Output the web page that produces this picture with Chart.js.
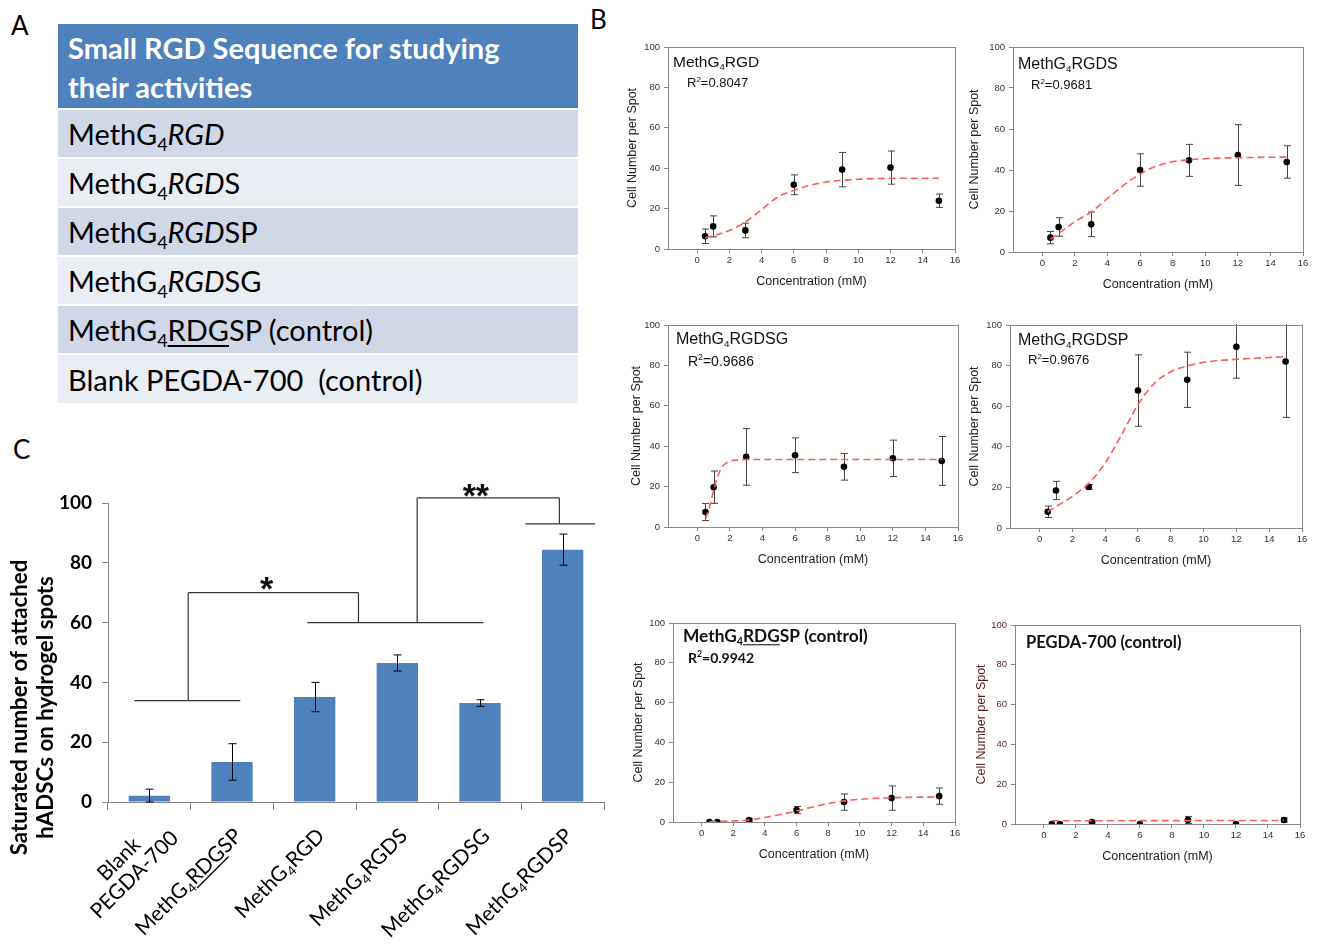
<!DOCTYPE html>
<html>
<head>
<meta charset="utf-8">
<script src="https://cdn.jsdelivr.net/npm/chart.js@4.4.1/dist/chart.umd.min.js"></script>
<style>
  body { margin: 0; background: #fff; }
  #fig { position: relative; width: 1321px; height: 944px; overflow: hidden; font-family: Lato, "Open Sans", sans-serif; }
  .lbl { position: absolute; font-size: 26px; color: #000; line-height: 1; }
  canvas { position: absolute; }
  /* tabla panel A */
  #tblA { position: absolute; left: 58px; top: 24px; width: 520px; border-collapse: collapse; }
  #tblA th { background: #4f81bd; color: #fff; font-weight: bold; font-size: 29px; text-align: left;
             line-height: 39px; height: 85px; padding: 2px 0 0 10px; box-sizing: border-box; vertical-align: middle; }
  #tblA td { font-size: 29px; height: 49px; padding: 0 0 0 10px; border-top: 2px solid #fff; box-sizing: border-box; }
  #tblA tr.d td { background: #d0d8e8; }
  #tblA tr.l td { background: #e9edf4; }
  #tblA sub { font-size: 62%; vertical-align: -0.32em; line-height: 0; }
  #tblA u { text-decoration-thickness: 1.5px; text-underline-offset: 4px; }
</style>
</head>
<body>
<div id="fig">
  <div class="lbl" style="left:11px;top:12px">A</div>
  <div class="lbl" style="left:590px;top:6px">B</div>
  <div class="lbl" style="left:13px;top:436px">C</div>

  <table id="tblA">
    <tr><th>Small RGD Sequence for studying<br>their activities</th></tr>
    <tr class="d"><td>MethG<sub>4</sub><i>RGD</i></td></tr>
    <tr class="l"><td>MethG<sub>4</sub><i>RGD</i>S</td></tr>
    <tr class="d"><td>MethG<sub>4</sub><i>RGD</i>SP</td></tr>
    <tr class="l"><td>MethG<sub>4</sub><i>RGD</i>SG</td></tr>
    <tr class="d"><td>MethG<sub>4</sub><u>RDG</u>SP (control)</td></tr>
    <tr class="l"><td>Blank PEGDA-700&nbsp; (control)</td></tr>
  </table>

  <canvas id="c1"></canvas>
  <canvas id="c2"></canvas>
  <canvas id="c3"></canvas>
  <canvas id="c4"></canvas>
  <canvas id="c5"></canvas>
  <canvas id="c6"></canvas>
  <canvas id="barC"></canvas>
</div>

<script>
/* ── Datos panel B ── */
const concentrations = [0.5, 1, 3, 6, 9, 12, 15];
const xTicks = [0, 2, 4, 6, 8, 10, 12, 14, 16];
const yTicks = [0, 20, 40, 60, 80, 100];

const rgdMean   = [6.3, 11.2, 9.2, 31.8, 39.3, 40.3, 23.9];
const rgdErr    = [3.6, 5.2, 3.6, 4.9, 8.5, 8.2, 3.3];
const rgdFitX   = [0.5, 2, 3, 4, 5, 6, 7, 8, 9, 10, 12, 15];
const rgdFit    = [5.4, 9.2, 13.4, 19.5, 25.7, 29, 31.5, 33.2, 34, 34.5, 35, 35];

const rgdsMean  = [7, 12.2, 13.5, 40, 44.7, 47.3, 43.9];
const rgdsErr   = [3, 4.5, 6, 7.9, 7.8, 14.8, 7.9];
const rgdsFitX  = [0.5, 2, 3, 4, 5, 6, 7, 8, 9, 10, 12, 15];
const rgdsFit   = [6.2, 14.7, 19.6, 26.1, 32.6, 38, 41.9, 44, 45, 45.5, 46, 46.3];

const rgdsgMean = [7.4, 19.7, 34.7, 35.5, 29.8, 34, 32.7];
const rgdsgErr  = [4.2, 8, 14, 8.6, 6.6, 9, 12.1];
const rgdsgFitX = [0.5, 0.75, 1, 1.25, 1.5, 2, 2.5, 3, 6, 9, 12, 15];
const rgdsgFit  = [4, 10, 18, 25, 29.5, 32.5, 33.2, 33.4, 33.4, 33.4, 33.4, 33.4];

const rgdspMean = [8, 18.5, 20.2, 67.7, 73, 89.3, 82];
const rgdspErr  = [2.8, 4.5, 1.2, 17.6, 13.6, 15.5, 27.5];
const rgdspFitX = [0.5, 2, 3, 4, 5, 6, 7, 8, 9, 10, 12, 15];
const rgdspFit  = [8, 15.6, 22, 32, 45.9, 60.7, 71.3, 77, 79.8, 81.6, 83.1, 84.4];

const rdgspMean = [0, 0, 1, 6, 10, 12, 13];
const rdgspErr  = [0, 0, 0.6, 1.8, 4.1, 6.1, 4.1];
const rdgspFitX = [0.5, 2, 3, 4, 5, 6, 7, 8, 9, 10, 12, 15];
const rdgspFit  = [0.2, 0.5, 1, 2.3, 3.8, 5.5, 7.5, 9.3, 10.6, 11.4, 12.2, 12.6];

const pegdaMean = [0, 0, 1, 0, 2, 0, 2];
const pegdaErr  = [0, 0, 0.5, 0, 1.8, 0, 1];
const pegdaFitX = [0.5, 15];
const pegdaFit  = [1.6, 1.8];

/* ── Datos panel C ── */
const barCategories = ["Blank PEGDA-700", "MethG4RDGSP", "MethG4RGD", "MethG4RGDS", "MethG4RGDSG", "MethG4RGDSP"];
const barMean = [2.1, 13.4, 35.1, 46.5, 33.1, 84.4];
const barErr  = [2.2, 6.1, 4.9, 2.7, 1.1, 5.2];
const barTicks = [0, 20, 40, 60, 80, 100];
const barLabelRuns = [
  [[{t:"Blank"}], [{t:"PEGDA-700"}]],
  [[{t:"MethG"}, {t:"4", sub:true}, {t:"RDG", u:true}, {t:"SP"}]],
  [[{t:"MethG"}, {t:"4", sub:true}, {t:"RGD"}]],
  [[{t:"MethG"}, {t:"4", sub:true}, {t:"RGDS"}]],
  [[{t:"MethG"}, {t:"4", sub:true}, {t:"RGDSG"}]],
  [[{t:"MethG"}, {t:"4", sub:true}, {t:"RGDSP"}]]
];
// corchetes de significancia, en unidades (categoría, valor)
const bracketSegs = [
  [-0.18, 33.9, 1.1, 33.9],
  [0.47, 33.9, 0.47, 70],
  [0.47, 70, 2.53, 70],
  [2.53, 70, 2.53, 60],
  [1.91, 60, 4.04, 60],
  [3.24, 60, 3.24, 101.7],
  [3.24, 101.7, 4.96, 101.7],
  [4.96, 101.7, 4.96, 93],
  [4.55, 93, 5.39, 93]
];
const starMarks = [{x: 1.42, y: 74.2, t: "*"}, {x: 3.95, y: 105.4, t: "**"}];

/* ── Texto enriquecido (subíndices, cursiva, subrayado) ── */
function fontOf(r, size, weight, family) {
  const s = (r.sub || r.sup) ? size * 0.62 : size;
  return (r.it ? "italic " : "") + weight + " " + s + "px " + family;
}
function runsWidth(ctx, runs, size, weight, family) {
  let w = 0;
  runs.forEach(r => { ctx.font = fontOf(r, size, weight, family); w += ctx.measureText(r.t).width; });
  return w;
}
function drawRuns(ctx, runs, x, y, size, weight, family, align) {
  const w = runsWidth(ctx, runs, size, weight, family);
  let cx = align === "right" ? x - w : align === "center" ? x - w / 2 : x;
  ctx.textAlign = "left";
  ctx.textBaseline = "alphabetic";
  runs.forEach(r => {
    ctx.font = fontOf(r, size, weight, family);
    const dy = r.sub ? size * 0.2 : r.sup ? -size * 0.4 : 0;
    ctx.fillText(r.t, cx, y + dy);
    const rw = ctx.measureText(r.t).width;
    if (r.u) ctx.fillRect(cx, y + size * 0.13, rw, Math.max(1, size * 0.06));
    cx += rw;
  });
}

/* ── Plugin de los gráficos pequeños ── */
const smallDecor = {
  id: "smallDecor",
  beforeDatasetsDraw(chart, args, o) {
    const {ctx, chartArea: a, scales: {x, y}} = chart;
    ctx.save();
    ctx.beginPath(); ctx.rect(a.left, a.top - 1, a.right - a.left, a.bottom - a.top + 2); ctx.clip();
    ctx.strokeStyle = "#444"; ctx.lineWidth = 1;
    const ds = chart.data.datasets[1];
    ds.data.forEach((p, i) => {
      const e = ds.err[i];
      if (!e) return;
      const px = Math.round(x.getPixelForValue(p.x)) + 0.5;
      const t = y.getPixelForValue(p.y + e), b = y.getPixelForValue(p.y - e);
      ctx.beginPath();
      ctx.moveTo(px, t); ctx.lineTo(px, b);
      ctx.moveTo(px - 3.5, t); ctx.lineTo(px + 3.5, t);
      ctx.moveTo(px - 3.5, b); ctx.lineTo(px + 3.5, b);
      ctx.stroke();
    });
    ctx.restore();
  },
  afterDraw(chart, args, o) {
    const {ctx, chartArea: a} = chart;
    ctx.save();
    ctx.strokeStyle = "#888"; ctx.lineWidth = 1;
    ctx.strokeRect(Math.round(a.left) + 0.5, Math.round(a.top) + 0.5, Math.round(a.right - a.left), Math.round(a.bottom - a.top));
    ctx.fillStyle = o.yColor || "#222";
    // título eje y
    ctx.save();
    ctx.translate(a.left - o.yGap, (a.top + a.bottom) / 2);
    ctx.rotate(-Math.PI / 2);
    ctx.font = "12.5px 'Liberation Sans'"; ctx.textAlign = "center"; ctx.textBaseline = "middle";
    ctx.fillText("Cell Number per Spot", 0, 0);
    ctx.restore();
    // título eje x
    ctx.fillStyle = "#222";
    ctx.font = "12.5px 'Liberation Sans'"; ctx.textAlign = "center"; ctx.textBaseline = "middle";
    ctx.fillText("Concentration (mM)", (a.left + a.right) / 2, a.bottom + 33);
    // rótulos internos
    ctx.fillStyle = "#111";
    drawRuns(ctx, o.title, a.left + o.tx, a.top + o.ty, o.tsize, o.tweight, o.tfamily, "left");
    if (o.r2) drawRuns(ctx, o.r2, a.left + o.rx, a.top + o.ry, o.rsize, o.tweight, o.tfamily, "left");
    ctx.restore();
  }
};

function smallChart(id, box, mean, err, fitX, fit, deco) {
  const cv = document.getElementById(id);
  const padL = 62, padT = 12, padR = 12, padB = 52;
  cv.width = box[2] - box[0] + padL + padR;
  cv.height = box[3] - box[1] + padT + padB;
  cv.style.left = (box[0] - padL) + "px";
  cv.style.top = (box[1] - padT) + "px";
  const tickColor = deco.yColor || "#333";
  new Chart(cv, {
    type: "scatter",
    data: {
      datasets: [{
        data: fitX.map((v, i) => ({x: v, y: fit[i]})),
        showLine: true, borderColor: "#ff5a5a", borderDash: [7, 4], borderWidth: 1.6,
        pointRadius: 0, cubicInterpolationMode: "monotone", fill: false
      }, {
        data: concentrations.map((v, i) => ({x: v, y: mean[i]})),
        err: err,
        backgroundColor: "#000", borderColor: "#000", pointRadius: 3.3, borderWidth: 0
      }]
    },
    options: {
      responsive: false, animation: false,
      layout: {padding: {top: padT, right: padR, left: 0, bottom: 0}},
      plugins: {legend: {display: false}, tooltip: {enabled: false}, smallDecor: deco},
      scales: {
        x: {
          type: "linear", min: -1.8, max: 16,
          afterBuildTicks: s => { s.ticks = xTicks.map(v => ({value: v})); },
          afterFit: s => { s.height = padB; },
          grid: {drawOnChartArea: false, tickLength: 4, color: "#888"},
          border: {color: "#888"},
          ticks: {font: {family: "Liberation Sans", size: 9.5}, color: "#333", padding: 2, maxRotation: 0}
        },
        y: {
          min: 0, max: 100,
          afterBuildTicks: s => { s.ticks = yTicks.map(v => ({value: v})); },
          afterFit: s => { s.width = padL; },
          grid: {drawOnChartArea: false, tickLength: 4, color: "#888"},
          border: {color: "#888"},
          ticks: {font: {family: "Liberation Sans", size: 9.5}, color: tickColor, padding: 4}
        }
      }
    },
    plugins: [smallDecor]
  });
}

const arial = "'Liberation Sans'";
const r2 = s => [{t: "R"}, {t: "2", sup: true}, {t: "=" + s}];
const titleRuns = s => [{t: "MethG"}, {t: "4", sub: true}, {t: s}];

smallChart("c1", [668, 47, 955, 249], rgdMean, rgdErr, rgdFitX, rgdFit,
  {title: titleRuns("RGD"), tx: 5, ty: 20, tsize: 15.5, tweight: "normal", tfamily: arial,
   r2: r2("0.8047"), rx: 19, ry: 40, rsize: 13, yGap: 35});
smallChart("c2", [1013, 47, 1303, 252], rgdsMean, rgdsErr, rgdsFitX, rgdsFit,
  {title: titleRuns("RGDS"), tx: 5, ty: 22, tsize: 16, tweight: "normal", tfamily: arial,
   r2: r2("0.9681"), rx: 18, ry: 42, rsize: 13, yGap: 38});
smallChart("c3", [668, 325, 958, 527], rgdsgMean, rgdsgErr, rgdsgFitX, rgdsgFit,
  {title: titleRuns("RGDSG"), tx: 8, ty: 19, tsize: 16, tweight: "normal", tfamily: arial,
   r2: r2("0.9686"), rx: 20, ry: 41, rsize: 14, yGap: 31});
smallChart("c4", [1010, 325, 1302, 528], rgdspMean, rgdspErr, rgdspFitX, rgdspFit,
  {title: titleRuns("RGDSP"), tx: 8, ty: 20, tsize: 16, tweight: "normal", tfamily: arial,
   r2: r2("0.9676"), rx: 18, ry: 39, rsize: 13, yGap: 35});
smallChart("c5", [673, 623, 955, 822], rdgspMean, rdgspErr, rdgspFitX, rdgspFit,
  {title: [{t: "MethG"}, {t: "4", sub: true}, {t: "RDG", u: true}, {t: "SP (control)"}], tx: 10, ty: 19, tsize: 17.3, tweight: "bold", tfamily: "Lato",
   r2: r2("0.9942"), rx: 15, ry: 40, rsize: 14, yGap: 34});
smallChart("c6", [1015, 625, 1300, 824], pegdaMean, pegdaErr, pegdaFitX, pegdaFit,
  {title: [{t: "PEGDA-700 (control)"}], tx: 11, ty: 23, tsize: 16.6, tweight: "bold", tfamily: "Lato",
   yGap: 33, yColor: "#5a1f1f"});

/* ── Panel C: barras ── */
const barDecor = {
  id: "barDecor",
  afterDatasetsDraw(chart) {
    const {ctx, scales: {x, y}} = chart;
    ctx.save();
    ctx.strokeStyle = "#000"; ctx.lineWidth = 1;
    barMean.forEach((m, i) => {
      const px = Math.round(x.getPixelForValue(i)) + 0.5;
      const t = y.getPixelForValue(m + barErr[i]), b = y.getPixelForValue(Math.max(0, m - barErr[i]));
      ctx.beginPath();
      ctx.moveTo(px, t); ctx.lineTo(px, b);
      ctx.moveTo(px - 4, t); ctx.lineTo(px + 4, t);
      ctx.moveTo(px - 4, b); ctx.lineTo(px + 4, b);
      ctx.stroke();
    });
    ctx.restore();
  },
  afterDraw(chart) {
    const {ctx, chartArea: a, scales: {x, y}} = chart;
    const x0 = x.getPixelForValue(0), step = x.getPixelForValue(1) - x0;
    const cx = v => x0 + v * step;
    ctx.save();
    // corchetes
    ctx.strokeStyle = "#333"; ctx.lineWidth = 1.2;
    ctx.beginPath();
    bracketSegs.forEach(s => {
      ctx.moveTo(cx(s[0]), y.getPixelForValue(s[1]));
      ctx.lineTo(cx(s[2]), y.getPixelForValue(s[3]));
    });
    ctx.stroke();
    ctx.fillStyle = "#111";
    ctx.font = "bold 34px 'Liberation Sans'"; ctx.textAlign = "center"; ctx.textBaseline = "alphabetic";
    starMarks.forEach(s => ctx.fillText(s.t, cx(s.x), y.getPixelForValue(s.y) + 34 * 0.58));
    // rótulos del eje x, rotados
    ctx.fillStyle = "#000";
    const fs = 21, lh = 22;
    barLabelRuns.forEach((lines, i) => {
      ctx.save();
      ctx.translate(x.getPixelForValue(i) + 6, a.bottom + 30);
      ctx.rotate(-Math.PI / 4);
      if (lines.length === 1) {
        drawRuns(ctx, lines[0], 0, fs * 0.35, fs, "normal", "Lato", "right");
      } else {
        const mw = Math.max(...lines.map(l => runsWidth(ctx, l, fs, "normal", "Lato")));
        lines.forEach((l, k) => {
          drawRuns(ctx, l, 12 - mw / 2, 4 + fs * 0.35 + (k - (lines.length - 1) / 2) * lh, fs, "normal", "Lato", "center");
        });
      }
      ctx.restore();
    });
    // título del eje y
    ctx.save();
    ctx.translate(0, (a.top + a.bottom) / 2 + 55);
    ctx.rotate(-Math.PI / 2);
    ctx.font = "bold 22.3px Lato"; ctx.textAlign = "center"; ctx.textBaseline = "middle";
    ctx.fillText("Saturated number of attached", 0, 20);
    ctx.fillText("hADSCs on hydrogel spots", 0, 46);
    ctx.restore();
    ctx.restore();
  }
};

const bc = document.getElementById("barC");
bc.width = 615; bc.height = 504;
bc.style.left = "0px"; bc.style.top = "440px";
new Chart(bc, {
  type: "bar",
  data: {
    labels: barCategories,
    datasets: [{data: barMean, backgroundColor: "#4f81bd", barPercentage: 0.5, categoryPercentage: 1}]
  },
  options: {
    responsive: false, animation: false,
    layout: {padding: {top: 63, right: 11, left: 0, bottom: 0}},
    plugins: {legend: {display: false}, tooltip: {enabled: false}},
    scales: {
      x: {
        afterFit: s => { s.height = 142; },
        grid: {drawOnChartArea: false, tickLength: 8, color: "#868686", offset: true},
        border: {color: "#868686"},
        ticks: {display: false}
      },
      y: {
        min: 0, max: 100,
        afterBuildTicks: s => { s.ticks = barTicks.map(v => ({value: v})); },
        afterFit: s => { s.width = 108; },
        grid: {drawOnChartArea: false, tickLength: 6, color: "#868686"},
        border: {color: "#868686"},
        ticks: {font: {family: "Lato", size: 19, weight: "bold"}, color: "#000", padding: 10}
      }
    }
  },
  plugins: [barDecor]
});
</script>
</body>
</html>
